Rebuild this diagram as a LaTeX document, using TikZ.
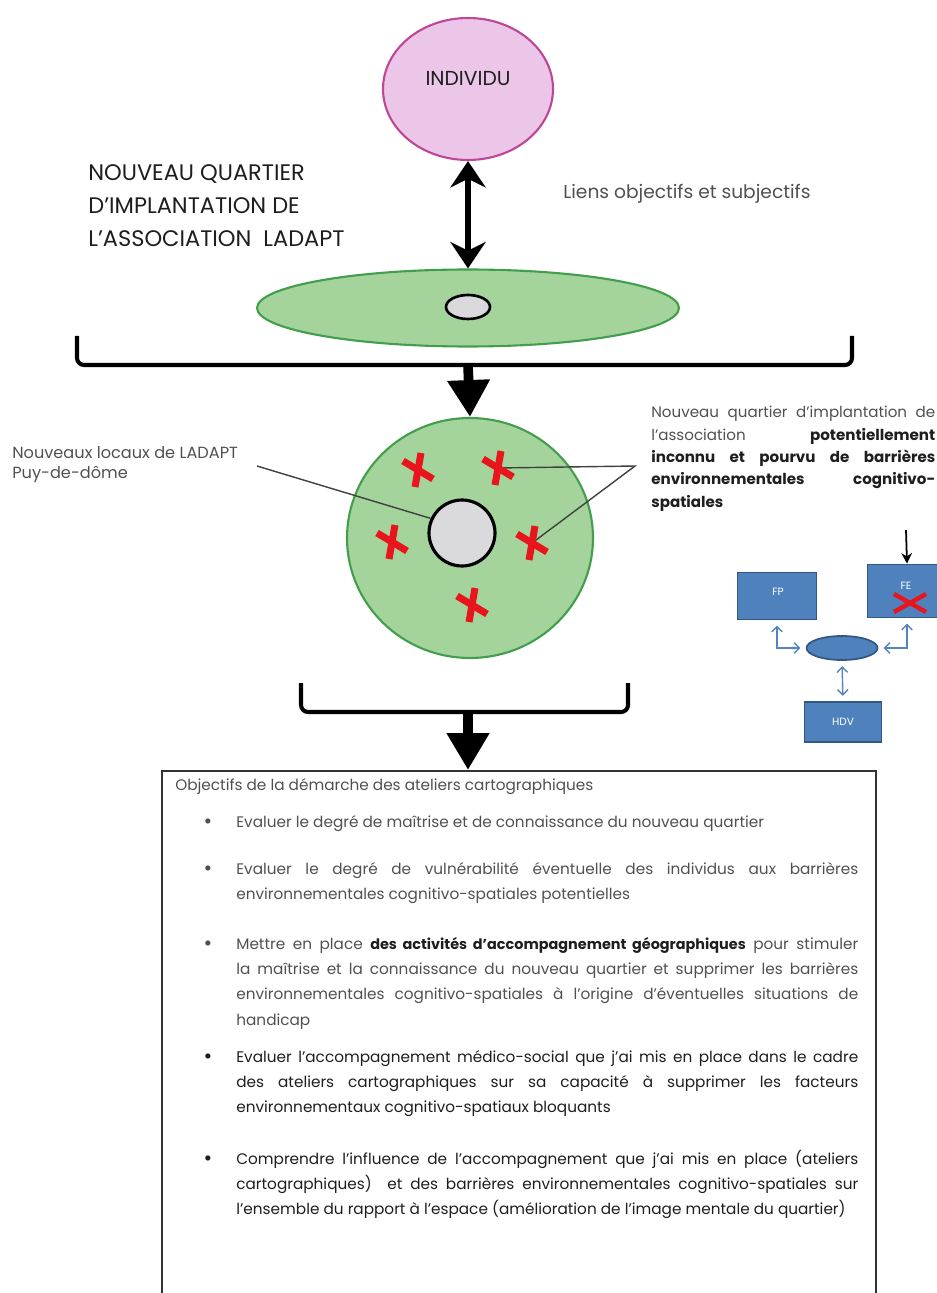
\documentclass[tikz,border=0pt]{standalone}
\usepackage{fontspec}
\setmainfont{Poppins}
\usetikzlibrary{arrows.meta,shapes.geometric}

\definecolor{pinkfill}{RGB}{236,198,232}
\definecolor{pinkline}{RGB}{190,70,150}
\definecolor{greenfill}{RGB}{164,212,156}
\definecolor{greenline}{RGB}{66,158,76}
\definecolor{greyfill}{RGB}{218,218,220}
\definecolor{boxblue}{RGB}{79,129,189}
\definecolor{boxline}{RGB}{52,88,132}
\definecolor{arrowblue}{RGB}{84,132,190}
\definecolor{crossred}{RGB}{232,22,28}
\definecolor{textgrey}{RGB}{80,80,80}
\definecolor{textdark}{RGB}{30,30,30}

\tikzset{
  pinkell/.style={ellipse, draw=pinkline, fill=pinkfill, line width=1.2pt},
  greenell/.style={ellipse, draw=greenline, fill=greenfill, line width=1.2pt},
  greyell/.style={ellipse, draw=black, fill=greyfill, line width=1.8pt, inner sep=0pt},
  fatarrow/.style={line width=5.5pt, -{Triangle[length=21pt,width=23pt]}},
  twoway/.style={line width=3pt, {Stealth[length=15pt,width=20pt]}-{Stealth[length=15pt,width=20pt]}},
  bracket/.style={line width=2.3pt, rounded corners=4pt},
  bluebox/.style={rectangle, draw=boxline, fill=boxblue, line width=1pt, text=white, font=\fontsize{6}{7}\selectfont},
  bluearrow/.style={draw=arrowblue, line width=0.8pt, {Straight Barb[length=3pt,width=6pt]}-{Straight Barb[length=3pt,width=6pt]}},
  crossline/.style={draw=crossred, line width=4pt},
  redx/.pic={
    \draw[crossline] (3,-17) -- (-3,17);
    \draw[crossline] (-15,-9) -- (15,9);
  },
  itemtxt/.style={anchor=base west, inner sep=0pt, text width=12.44cm, align=justify, text=textgrey,
    font=\fontsize{8.7}{14.5}\selectfont,
    execute at begin node={\tolerance=10000\hyphenpenalty=10000\exhyphenpenalty=10000}},
  bul/.style={anchor=base, inner sep=0pt, font=\fontsize{12}{14.5}\selectfont}
}

\begin{document}
\begin{tikzpicture}[x=0.02cm,y=-0.02cm]
\useasboundingbox (0,0) rectangle (936,1293);

% Individu and its links
\node[pinkell, minimum width=3.4cm, minimum height=2.84cm] (indiv) at (468,89) {};
\node[font=\fontsize{11.5}{13}\selectfont, text=textdark] (indivtxt) at (468,79) {INDIVIDU};

% (base of a multi-line node = its last line)
\node[anchor=base west, align=left, inner sep=0pt, text=textdark,
      font=\fontsize{12.8}{19}\selectfont] (titre) at (88,247)
  {NOUVEAU QUARTIER\\D’IMPLANTATION DE\\L’ASSOCIATION~~LADAPT};
\node[anchor=base west, inner sep=0pt, text=textgrey,
      font=\fontsize{10.6}{12}\selectfont] (liens) at (563,199) {Liens objectifs et subjectifs};

% Flat view of the quarter
\node[greenell, minimum width=8.44cm, minimum height=1.54cm] (quartier) at (468,308) {};
\node[greyell, line width=1.5pt, minimum width=0.88cm, minimum height=0.48cm] (locaux) at (468,307) {};

\draw[twoway] (indiv.south) -- (quartier.north);

% First bracket
\coordinate (b1l) at (77,336);
\coordinate (b1r) at (852,336);
\coordinate (b1m) at (468,365);
\draw[bracket] (b1l) |- (b1m) -| (b1r);

% Zoom on the quarter
\node[greenell, minimum width=4.92cm, minimum height=4.8cm] (zone) at (470,538) {};
\node[greyell, minimum size=1.32cm, circle] (centre) at (462,533) {};
\draw[fatarrow] (b1m) -- (zone.north);

\coordinate (c1) at (418,470);
\coordinate (c2) at (498,468);
\coordinate (c3) at (392,542);
\coordinate (c4) at (532,543);
\coordinate (c5) at (472,605);

% Annotations
\node[anchor=base west, align=left, inner sep=0pt, text=textgrey,
      font=\fontsize{9.2}{11.4}\selectfont] (locauxtxt) at (12,479)
  {Nouveaux locaux de LADAPT\\Puy-de-dôme};
\coordinate (lk) at (257,466);
\draw[line width=0.8pt, black!75] (lk) -- (centre.155);

\node[anchor=base west, inner sep=0pt, text width=5.68cm, align=justify, text=textgrey,
      font=\fontsize{8.6}{12.7}\selectfont,
      execute at begin node={\tolerance=10000\hyphenpenalty=10000\exhyphenpenalty=10000}] (barrtxt) at (651,418)
  {Nouveau quartier d’implantation de\linebreak l’association \textcolor{textdark}{\bfseries potentiellement}\linebreak
   \textcolor{textdark}{\bfseries inconnu et pourvu de barrières}\linebreak
   \textcolor{textdark}{\bfseries environnementales cognitivo-}\linebreak
   \textcolor{textdark}{\bfseries spatiales}};
\coordinate (jn) at (635,466);
\draw[line width=0.8pt, black!75] (c2) -- (jn) -- (c4);

\pic at (c1) {redx};
\pic at (c2) {redx};
\pic at (c3) {redx};
\pic at (c4) {redx};
\pic at (c5) {redx};

% Small diagram FP / FE / HDV
\node[bluebox, minimum width=1.58cm, minimum height=0.94cm] (fp) at (777,596) {};
\node[bluebox, minimum width=1.58cm, minimum height=1.06cm] (fe) at (907,591) {};
\node[bluebox, minimum width=1.54cm, minimum height=0.8cm] (hdv) at (843,722) {HDV};
\node[ellipse, draw=boxline, fill=boxblue, line width=1pt, minimum width=1.42cm, minimum height=0.48cm] (mini) at (842,648) {};
\node[text=white, font=\fontsize{6}{7}\selectfont] (fptxt) at (778,592) {FP};
\node[text=white, font=\fontsize{6}{7}\selectfont] (fetxt) at (906,586) {FE};
\draw[crossline, line width=2.5pt] (894,594) -- (926,612);
\draw[crossline, line width=2.5pt] (894,612) -- (926,594);

\draw[bluearrow, shorten <=3pt, shorten >=3pt] (fp.south) |- (mini.west);
\draw[bluearrow, shorten <=3pt, shorten >=3pt] (fe.south) |- (mini.east);
\draw[bluearrow, shorten <=3pt, shorten >=3pt] (mini.south) -- (hdv.north);

\coordinate (cogn) at (906,530);
\draw[line width=1pt, -{Stealth[length=6pt,width=6pt]}] (cogn) -- (fe.north);

% Second bracket
\coordinate (b2l) at (301,683);
\coordinate (b2r) at (628,683);
\coordinate (b2m) at (468,712);
\draw[bracket] (b2l) |- (b2m) -| (b2r);

% Objectives box
\node[draw=black!80, line width=1pt, anchor=north west, inner sep=0pt,
      minimum width=14.28cm, minimum height=11cm] (objbox) at (161,770) {};
\draw[fatarrow] (b2m) -- (b2m |- objbox.north);

\node[anchor=base west, inner sep=0pt, text=textgrey,
      font=\fontsize{8.7}{14.5}\selectfont] (objtitre) at (175,790)
  {Objectifs de la démarche des ateliers cartographiques};

\node[bul, text=textgrey] (p1) at (208,828) {•};
\node[itemtxt] (o1) at (236,827)
  {Evaluer le degré de maîtrise et de connaissance du nouveau quartier};

\node[bul, text=textgrey] (p2) at (208,875) {•};
\node[itemtxt] (o2) at (236,874)
  {Evaluer le degré de vulnérabilité éventuelle des individus aux barrières\linebreak
   environnementales cognitivo-spatiales potentielles};

\node[bul, text=textgrey] (p3) at (208,950) {•};
\node[itemtxt] (o3) at (236,949)
  {Mettre en place \textcolor{textdark}{\fontsize{8.2}{14.5}\selectfont\bfseries des activités d’accompagnement géographiques} pour stimuler\linebreak
   la maîtrise et la connaissance du nouveau quartier et supprimer les barrières\linebreak
   environnementales cognitivo-spatiales à l’origine d’éventuelles situations de\linebreak
   handicap};

\node[bul, text=textdark] (p4) at (208,1063) {•};
\node[itemtxt, text=textdark] (o4) at (236,1062)
  {Evaluer l’accompagnement médico-social que j’ai mis en place dans le cadre\linebreak
   des ateliers cartographiques sur sa capacité à supprimer les facteurs\linebreak
   environnementaux cognitivo-spatiaux bloquants};

\node[bul, text=textdark] (p5) at (208,1165) {•};
\node[itemtxt, text=textdark] (o5) at (236,1164)
  {Comprendre l’influence de l’accompagnement que j’ai mis en place (ateliers\linebreak
   cartographiques)~ et des barrières environnementales cognitivo-spatiales sur\linebreak
   l’ensemble du rapport à l’espace (amélioration de l’image mentale du quartier)};

\end{tikzpicture}
\end{document}
